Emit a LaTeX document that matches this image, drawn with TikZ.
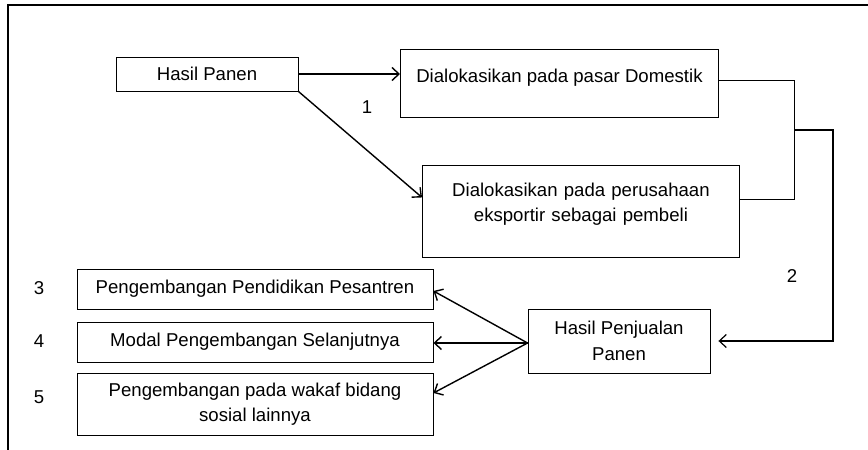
\documentclass[tikz,border=0pt]{standalone}
\usepackage{fontspec}
\setmainfont{Liberation Sans}
\usetikzlibrary{arrows.meta}

\begin{document}
\begin{tikzpicture}
[x=1pt, y=-1pt, >={Straight Barb[length=7pt,width=13pt]}, frame line/.style={line width=1.6pt}, box/.style={draw, line width=0.9pt, inner sep=0pt, font=\fontsize{18.6}{25.5}\selectfont}, link/.style={line width=0.9pt}, arrow line/.style={line width=1.4pt, ->}, number/.style={font=\fontsize{18.6}{25.5}\selectfont}]
    \useasboundingbox (0,0) rectangle (868,450);
    \coordinate (corner) at (8,5);
    \coordinate (frameleft) at (8,450);
    \coordinate (frameright) at (868,5);
    \coordinate (merge) at (794,130);
    \coordinate (bend) at (833,130);
    \draw[frame line] (frameleft) -- (corner) -- (frameright);
    \node[box, minimum width=182pt, minimum height=34pt] (panen) at (207,74) {Hasil Panen};
    \node[box, anchor=north west, minimum width=318pt, text height=32.7pt, text depth=35.3pt] (domestik) at (400,49) {Dialokasikan pada pasar Domestik};
    \node[box, anchor=north west, minimum width=317pt, text width=317pt, align=center, text height=30.7pt, text depth=61.3pt] (ekspor) at (422,165) {Dialokasikan pada perusahaan\\eksportir sebagai pembeli};
    \node[box, minimum width=182pt, minimum height=64pt, align=center] (penjualan) at (619,341) {Hasil Penjualan\\Panen};
    \node[box, minimum width=356pt, minimum height=40pt] (pesantren) at (255,289) {Pengembangan Pendidikan Pesantren};
    \node[box, minimum width=356pt, minimum height=40pt] (modal) at (255,342) {Modal Pengembangan Selanjutnya};
    \node[box, minimum width=356pt, minimum height=62pt, align=center] (wakaf) at (255,404) {Pengembangan pada wakaf bidang\\sosial lainnya};
    \node[number] (n1) at (367,107) {1};
    \node[number] (n2) at (792,276) {2};
    \node[number] (n3) at (39,288) {3};
    \node[number] (n4) at (39,341) {4};
    \node[number] (n5) at (39,397) {5};
    \draw[arrow line] (panen.east) -- (panen.east -| domestik.west);
    \draw[arrow line] (panen.south east) -- ([yshift=14pt]ekspor.west);
    \draw[link] ([yshift=3pt]domestik.east) -| (merge);
    \draw[link] ([yshift=12pt]ekspor.east) -| (merge);
    \draw[link, line width=1.2pt, ->] (merge) -- (bend) |- ([xshift=8pt]penjualan.east);
    \draw[arrow line] ([yshift=-2pt]penjualan.west) -- ([yshift=-2pt]pesantren.east);
    \draw[arrow line] ([yshift=-2pt]penjualan.west) -- ([yshift=-1pt]modal.east);
    \draw[arrow line] ([yshift=-2pt]penjualan.west) -- ([yshift=11pt]wakaf.east);
\end{tikzpicture}
\end{document}
